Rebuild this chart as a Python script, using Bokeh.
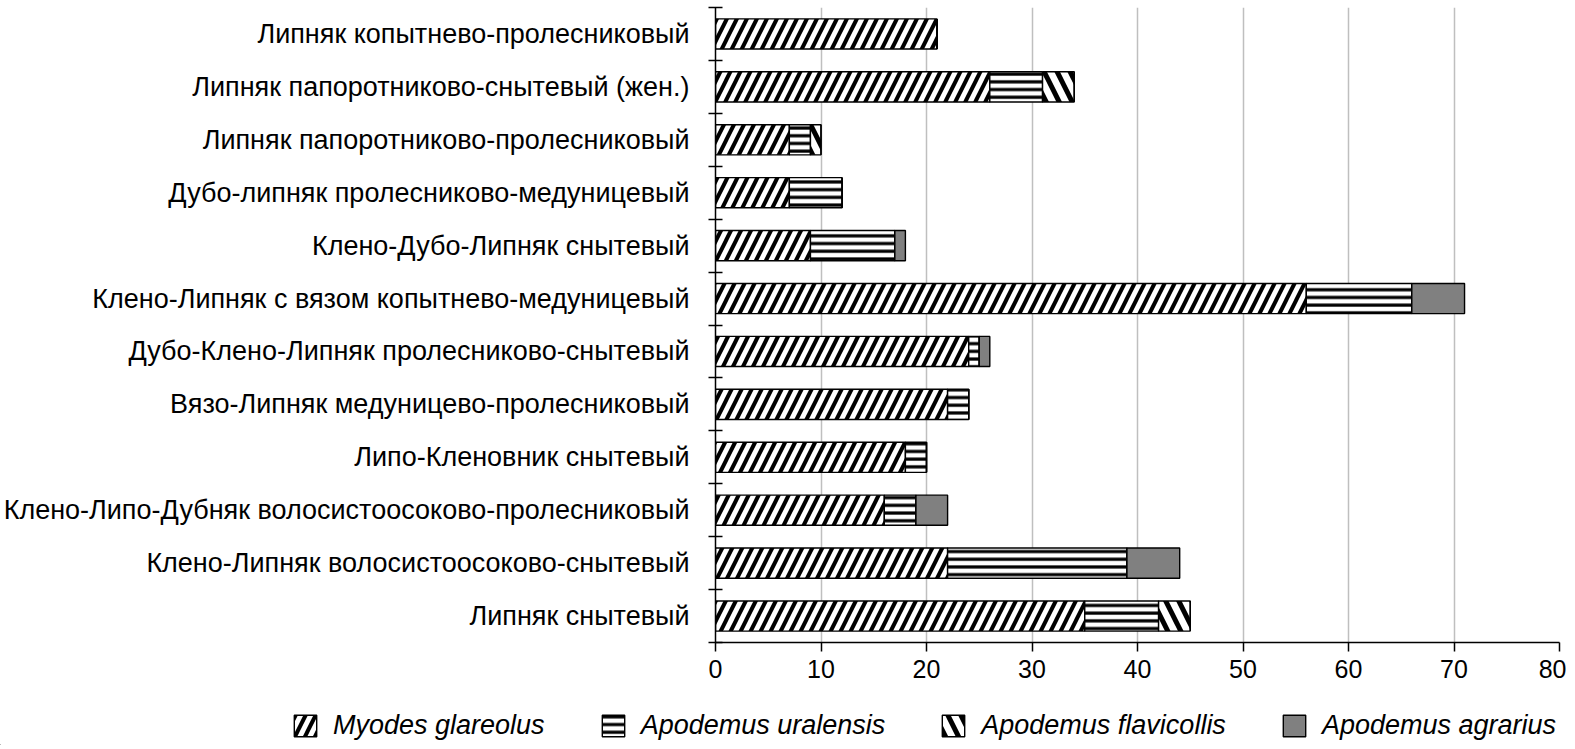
from bokeh.plotting import figure
from bokeh.models import (Range1d, FixedTicker, ColumnDataSource, Legend, LegendItem)
from bokeh.embed import file_html
from bokeh.resources import INLINE

categories = [
    "Липняк снытевый",
    "Клено-Липняк волосистоосоково-снытевый",
    "Клено-Липо-Дубняк волосистоосоково-пролесниковый",
    "Липо-Кленовник снытевый",
    "Вязо-Липняк медуницево-пролесниковый",
    "Дубо-Клено-Липняк пролесниково-снытевый",
    "Клено-Липняк с вязом копытнево-медуницевый",
    "Клено-Дубо-Липняк снытевый",
    "Дубо-липняк пролесниково-медуницевый",
    "Липняк папоротниково-пролесниковый",
    "Липняк папоротниково-снытевый (жен.)",
    "Липняк копытнево-пролесниковый",
]
myodes_glareolus = [35, 22, 16, 18, 22, 24, 56, 9, 7, 7, 26, 21]
apodemus_uralensis = [7, 17, 3, 2, 2, 1, 10, 8, 5, 2, 5, 0]
apodemus_flavicollis = [3, 0, 0, 0, 0, 0, 0, 0, 0, 1, 3, 0]
apodemus_agrarius = [0, 5, 3, 0, 0, 1, 5, 1, 0, 0, 0, 0]
series_names = ["Myodes glareolus", "Apodemus uralensis",
                "Apodemus flavicollis", "Apodemus agrarius"]
x_ticks = [0, 10, 20, 30, 40, 50, 60, 70, 80]

FONT = "Liberation Sans"
n = len(categories)
ypos = [i + 0.5 for i in range(n)]

W = 1566
H_MAIN = 700
H_LEG = 45
p = figure(width=W, height=H_MAIN, output_backend="svg", toolbar_location=None,
           x_range=Range1d(0, 80), y_range=Range1d(0, n),
           min_border_left=715, min_border_right=W - 1559, min_border_top=7,
           min_border_bottom=H_MAIN - 642)
p.outline_line_color = None
p.background_fill_color = "white"
p.border_fill_color = "white"

series = [myodes_glareolus, apodemus_uralensis, apodemus_flavicollis, apodemus_agrarius]
styles = [
    dict(fill_color="white", hatch_pattern="/", hatch_color="black", hatch_scale=20, hatch_weight=4),
    dict(fill_color="white", hatch_pattern="-", hatch_color="black", hatch_scale=7.7, hatch_weight=3.2),
    dict(fill_color="white", hatch_pattern="\\", hatch_color="black", hatch_scale=26, hatch_weight=5),
    dict(fill_color="#808080"),
]
left = [0] * n
for vals, st in zip(series, styles):
    right = [a + b for a, b in zip(left, vals)]
    src = ColumnDataSource(dict(y=ypos, left=left, right=right))
    p.hbar(y="y", left="left", right="right", height=0.57, source=src,
           line_color="black", line_width=1.4, **st)
    left = right

# x axis
p.xaxis.ticker = FixedTicker(ticks=x_ticks)
p.xaxis.axis_line_color = "black"
p.xaxis.axis_line_width = 1.5
p.xaxis.major_tick_in = 0
p.xaxis.major_tick_out = 9
p.xaxis.major_tick_line_width = 1.5
p.xaxis.minor_tick_line_color = None
p.xaxis.major_label_text_font = FONT
p.xaxis.major_label_text_font_size = "25px"
p.xaxis.major_label_text_color = "black"
p.xaxis.major_label_standoff = 8

# y axis
p.yaxis.ticker = FixedTicker(ticks=ypos, minor_ticks=list(range(n + 1)))
p.yaxis.major_label_overrides = {y: c for y, c in zip(ypos, categories)}
p.yaxis.axis_line_color = "black"
p.yaxis.axis_line_width = 1.5
p.yaxis.major_tick_in = 0
p.yaxis.major_tick_out = 0
p.yaxis.minor_tick_in = 7
p.yaxis.minor_tick_out = 7
p.yaxis.minor_tick_line_color = "black"
p.yaxis.minor_tick_line_width = 1.5
p.yaxis.major_label_text_font = FONT
p.yaxis.major_label_text_font_size = "27px"
p.yaxis.major_label_text_color = "black"
p.yaxis.major_label_standoff = 19

p.xgrid.grid_line_color = "#BFBFBF"
p.xgrid.grid_line_width = 1.5
p.ygrid.grid_line_color = None

# legend strip: separate root so its frame spans the full width
lg = figure(width=W, height=H_LEG, output_backend="svg", toolbar_location=None,
            x_range=Range1d(0, 1), y_range=Range1d(0, 1),
            x_axis_location=None, y_axis_location=None,
            min_border_left=0, min_border_right=0, min_border_top=0, min_border_bottom=0)
lg.grid.visible = False
lg.outline_line_color = None
lg.background_fill_color = "white"
lg.border_fill_color = "white"
items = []
for nm, st in zip(series_names, styles):
    src = ColumnDataSource(dict(y=[-5], left=[-5], right=[-4]))
    r = lg.hbar(y="y", left="left", right="right", height=0.5, source=src,
                line_color="black", line_width=1.4, **st)
    items.append(LegendItem(label=nm, renderers=[r]))
legend = Legend(items=items, orientation="horizontal", location=(291, 4))
legend.label_text_font = FONT
legend.label_text_font_style = "italic"
legend.label_text_font_size = "27px"
legend.label_text_color = "black"
legend.glyph_width = 28
legend.glyph_height = 27
legend.label_standoff = 14
legend.spacing = 54
legend.padding = 0
legend.margin = 0
legend.border_line_color = None
legend.background_fill_alpha = 0
lg.add_layout(legend, "center")

open("out.html", "w").write(file_html([p, lg], INLINE))
